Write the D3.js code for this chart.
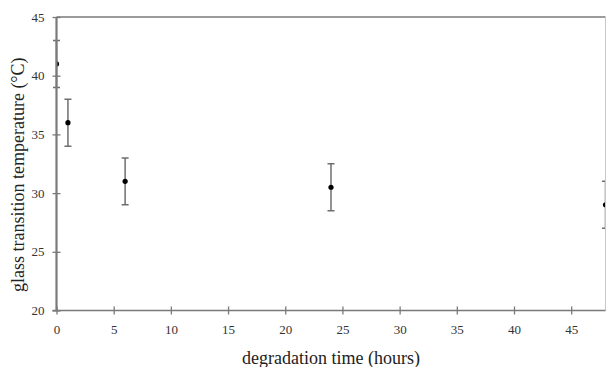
<!DOCTYPE html>
<html>
<head>
<meta charset="utf-8">
<script src="https://cdn.jsdelivr.net/npm/d3@7"></script>
<style>
  html, body { margin: 0; padding: 0; background: #fff; }
  svg { display: block; }
  .tick text { font-family: "Liberation Serif", "Times New Roman", serif; font-size: 13px; fill: #333; }
  .title { font-family: "Liberation Serif", "Times New Roman", serif; font-size: 18px; fill: #222; }
</style>
</head>
<body>
<svg id="chart" width="606" height="367"></svg>
<script>
// Degradation time (hours) and measured glass transition temperature (°C)
const hours = [0, 1, 6, 24, 48];
const tg = [41, 36, 31, 30.5, 29];
const tgError = [2, 2, 2, 2, 2];
const xTicks = [0, 5, 10, 15, 20, 25, 30, 35, 40, 45];
const yTicks = [20, 25, 30, 35, 40, 45];

const svg = d3.select("#chart");
const axisColor = "#7a7a7a";

const x = d3.scaleLinear().domain([0, 48]).range([56.5, 605.5]);
const y = d3.scaleLinear().domain([20, 45]).range([310.5, 17]);

// Clip regions: error bars may overhang the left axis, markers stay inside the frame
const defs = svg.append("defs");
defs.append("clipPath").attr("id", "bar-area")
  .append("rect")
  .attr("x", x(0) - 4).attr("y", y(45))
  .attr("width", x(48) - x(0) + 4).attr("height", y(20) - y(45));
defs.append("clipPath").attr("id", "dot-area")
  .append("rect")
  .attr("x", x(0)).attr("y", y(45))
  .attr("width", x(48) - x(0)).attr("height", y(20) - y(45));

// Error bars and mean points
const pts = hours.map((h, i) => ({ h, v: tg[i], e: tgError[i] }));
const capHalf = 3.5;
const errColor = "#6e6e6e";
const bars = svg.append("g").attr("clip-path", "url(#bar-area)");
bars.selectAll("line.err").data(pts).join("line")
  .attr("class", "err")
  .attr("x1", d => x(d.h)).attr("x2", d => x(d.h))
  .attr("y1", d => y(d.v + d.e)).attr("y2", d => y(d.v - d.e))
  .attr("stroke", errColor).attr("stroke-width", 1.5);
bars.selectAll("line.capT").data(pts).join("line")
  .attr("class", "capT")
  .attr("x1", d => x(d.h) - capHalf).attr("x2", d => x(d.h) + capHalf)
  .attr("y1", d => y(d.v + d.e)).attr("y2", d => y(d.v + d.e))
  .attr("stroke", errColor).attr("stroke-width", 1.5);
bars.selectAll("line.capB").data(pts).join("line")
  .attr("class", "capB")
  .attr("x1", d => x(d.h) - capHalf).attr("x2", d => x(d.h) + capHalf)
  .attr("y1", d => y(d.v - d.e)).attr("y2", d => y(d.v - d.e))
  .attr("stroke", errColor).attr("stroke-width", 1.5);
svg.append("g").attr("clip-path", "url(#dot-area)")
  .selectAll("circle").data(pts).join("circle")
  .attr("cx", d => x(d.h)).attr("cy", d => y(d.v))
  .attr("r", 2.6).attr("fill", "#000");

// Frame: top and right edges
svg.append("line")
  .attr("x1", x(0)).attr("x2", x(48)).attr("y1", y(45)).attr("y2", y(45))
  .attr("stroke", axisColor).attr("stroke-width", 1.5);
svg.append("line")
  .attr("x1", x(48)).attr("x2", x(48)).attr("y1", y(45)).attr("y2", y(20))
  .attr("stroke", "#c8c8c8").attr("stroke-width", 1);

// Axes with ticks crossing the axis line
function styleAxis(g) {
  g.select(".domain").attr("stroke", axisColor).attr("stroke-width", 1.5);
  g.selectAll(".tick line").attr("stroke", axisColor).attr("stroke-width", 1.3);
}

const xAxis = svg.append("g")
  .attr("transform", `translate(0,${y(20)})`)
  .call(d3.axisBottom(x).tickValues(xTicks).tickSize(0).tickPadding(14).tickSizeOuter(0))
  .call(styleAxis);
xAxis.selectAll(".tick line").attr("y1", -4).attr("y2", 4);
xAxis.select(".domain").attr("d", `M${x(0) - 4},0H${x(48)}`);

const yAxis = svg.append("g")
  .attr("transform", `translate(${x(0)},0)`)
  .call(d3.axisLeft(y).tickValues(yTicks).tickSize(0).tickPadding(12).tickSizeOuter(0))
  .call(styleAxis);
yAxis.selectAll(".tick line").attr("x1", -4).attr("x2", 4);
yAxis.select(".domain").attr("d", `M0,${y(45)}V${y(20)}`).attr("stroke-width", 2.2);

// Axis titles
svg.append("text").attr("class", "title")
  .attr("x", 331).attr("y", 364)
  .attr("text-anchor", "middle")
  .text("degradation time (hours)");
svg.append("text").attr("class", "title")
  .attr("transform", `translate(24,${(y(45) + y(20)) / 2 + 11}) rotate(-90)`)
  .attr("text-anchor", "middle")
  .text("glass transition temperature (°C)");
</script>
</body>
</html>
